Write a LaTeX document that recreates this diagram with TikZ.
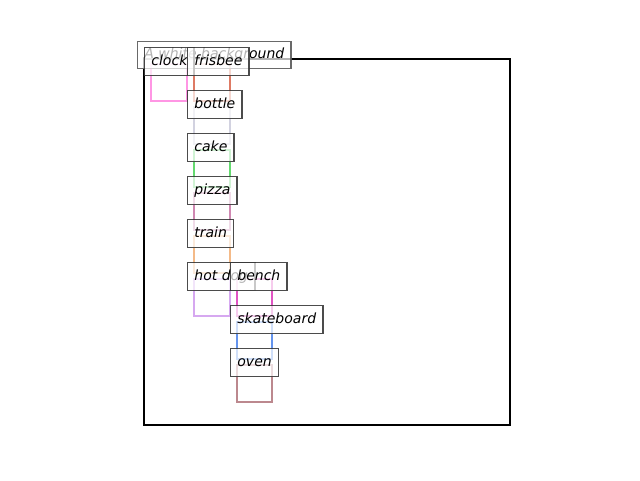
\documentclass[tikz,border=0pt]{standalone}
\usepackage{fontspec}
\setmainfont{DejaVu Sans}
\begin{document}
\begin{tikzpicture}[x=0.75pt,y=-0.75pt,
  lbl/.style={anchor=north west, draw=black!78, fill=white, fill opacity=0.7,
    text opacity=1, draw opacity=0.9, line width=1.1pt, inner xsep=5pt, inner ysep=0pt,
    minimum height=21pt, text height=0.75em, text depth=0.22em,
    font=\fontsize{10.5}{12}\selectfont\itshape},
  ttl/.style={lbl, draw=black!65},
  bbox/.style={line width=2pt, line join=miter}]
  \useasboundingbox (0,0) rectangle (640,480);
  % axes frame
  \draw[line width=1.5pt] (144,59) rectangle (510,425);
  % object boxes
  \definecolor{cClock}{RGB}{255,150,228}
  \definecolor{cFrisbee}{RGB}{222,122,100}
  \definecolor{cBottle}{RGB}{210,210,224}
  \definecolor{cCake}{RGB}{100,218,112}
  \definecolor{cPizza}{RGB}{208,136,178}
  \definecolor{cTrain}{RGB}{244,186,136}
  \definecolor{cHotdog}{RGB}{214,168,240}
  \definecolor{cBench}{RGB}{226,84,196}
  \definecolor{cSkate}{RGB}{100,148,238}
  \definecolor{cOven}{RGB}{188,136,142}
  \draw[bbox, cClock]   (151,64)  rectangle (187,101);
  \draw[bbox, cFrisbee] (194,64)  rectangle (230,101);
  \draw[bbox, cBottle]  (194,107) rectangle (230,144);
  \draw[bbox, cCake]    (194,150) rectangle (230,187);
  \draw[bbox, cPizza]   (194,193) rectangle (230,230);
  \draw[bbox, cTrain]   (194,236) rectangle (230,273);
  \draw[bbox, cHotdog]  (194,279) rectangle (230,316);
  \draw[bbox, cBench]   (237,279) rectangle (272,316);
  \draw[bbox, cSkate]   (237,322) rectangle (272,359);
  \draw[bbox, cOven]    (237,365) rectangle (272,402);
  % caption
  \node[ttl, minimum height=20.25pt] (title) at (137,41) {A white background};
  % labels
  \node[lbl] (clock)   at (144,47)  {clock};
  \node[lbl] (frisbee) at (187,47)  {frisbee};
  \node[lbl] (bottle)  at (187,90)  {bottle};
  \node[lbl] (cake)    at (187,133) {cake};
  \node[lbl] (pizza)   at (187,176) {pizza};
  \node[lbl] (train)   at (187,219) {train};
  \node[lbl] (hotdog)  at (187,262) {hot dog};
  \node[lbl] (bench)   at (230,262) {bench};
  \node[lbl] (skate)   at (230,305) {skateboard};
  \node[lbl] (oven)    at (230,348) {oven};
\end{tikzpicture}
\end{document}
